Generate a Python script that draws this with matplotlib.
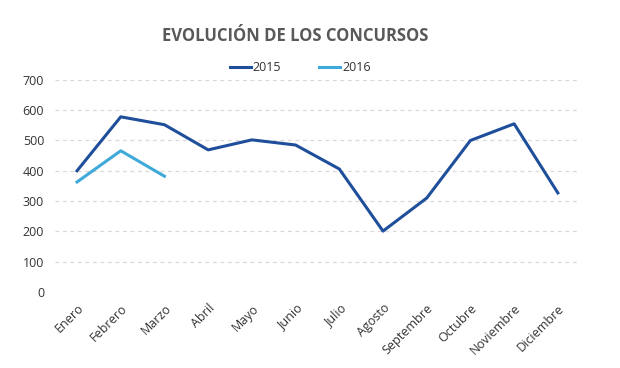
import matplotlib

matplotlib.use("Agg")
import matplotlib.pyplot as plt

months = ["Enero", "Febrero", "Marzo", "Abril", "Mayo", "Junio", "Julio",
          "Agosto", "Septembre", "Octubre", "Noviembre", "Diciembre"]
values_2015 = [400, 578, 552, 469, 502, 485, 406, 201, 310, 500, 555, 327]
values_2016 = [363, 466, 382]
yticks = [0, 100, 200, 300, 400, 500, 600, 700]

plt.rcParams["font.family"] = ["Open Sans", "DejaVu Sans"]

fig = plt.figure(figsize=(6.2, 3.68), dpi=100)
ax = fig.add_axes([0.089, 0.2065, 0.846, 0.5765])

ax.plot(range(len(values_2015)), values_2015, color="#1f4e9b", linewidth=2.2, label="2015")
ax.plot(range(len(values_2016)), values_2016, color="#3fa9d9", linewidth=2.2, label="2016")

ax.set_xlim(-0.5, len(months) - 0.5)
ax.set_ylim(0, 700)
ax.set_yticks(yticks)
ax.set_xticks(range(len(months)))
ax.set_xticklabels(months, rotation=45, ha="right", rotation_mode="anchor")
ax.tick_params(length=0, labelsize=9, colors="#333333", pad=8)
ax.tick_params(axis="x", pad=7)
ax.grid(axis="y", color="#d9d9d9", linestyle=(0, (3, 3)), linewidth=0.9)
ax.set_axisbelow(True)
for spine in ax.spines.values():
    spine.set_visible(False)

fig.text(0.476, 0.903, "EVOLUCIÓN DE LOS CONCURSOS", ha="center", va="center",
         fontsize=12, fontweight="bold", color="#595959")
ax.legend(loc="center", bbox_to_anchor=(0.467, 1.057), ncol=2, frameon=False,
          fontsize=9, handlelength=1.7, handletextpad=0.15, columnspacing=3.0,
          labelcolor="#333333")

fig.savefig("out.png", dpi=100)
